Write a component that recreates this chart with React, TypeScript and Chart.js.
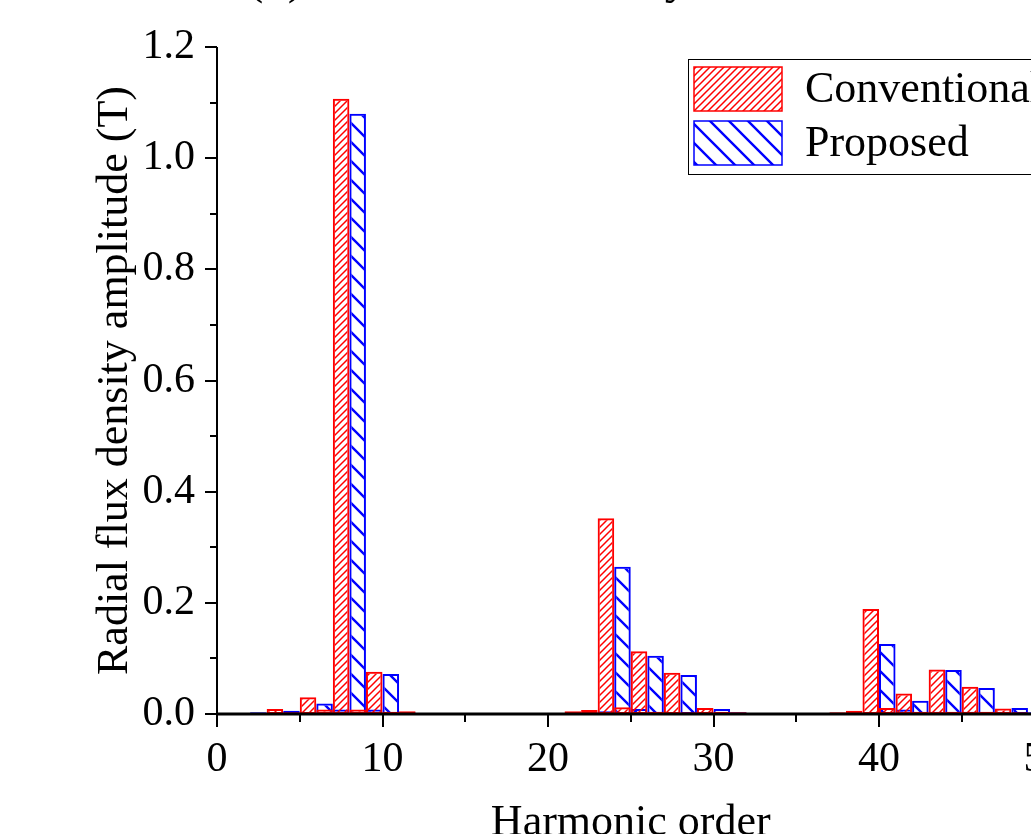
import { useEffect, useRef } from 'react';
import { Chart, registerables } from 'chart.js';

Chart.register(...registerables);

// Harmonic orders and radial flux density amplitudes (T)
const harmonicOrders = [
  1, 2, 3, 4, 5, 6, 7, 8, 9, 10,
  11, 12, 13, 14, 15, 16, 17, 18, 19, 20,
  21, 22, 23, 24, 25, 26, 27, 28, 29, 30,
  31, 32, 33, 34, 35, 36, 37, 38, 39, 40,
  41, 42, 43, 44, 45, 46, 47, 48, 49, 50,
];

const conventional = [
  0.001, 0.002, 0.002, 0.009, 0.003, 0.030, 0.008, 1.107, 0.008, 0.076,
  0.004, 0.005, 0.002, 0.002, 0.001, 0.002, 0.001, 0.002, 0.001, 0.001,
  0.002, 0.005, 0.007, 0.352, 0.012, 0.113, 0.004, 0.074, 0.003, 0.011,
  0.004, 0.003, 0.002, 0.001, 0.002, 0.001, 0.002, 0.003, 0.006, 0.189,
  0.011, 0.037, 0.004, 0.080, 0.004, 0.049, 0.004, 0.010, 0.003, 0.002,
];

const proposed = [
  0.001, 0.003, 0.002, 0.006, 0.003, 0.019, 0.008, 1.080, 0.008, 0.072,
  0.003, 0.002, 0.002, 0.001, 0.001, 0.001, 0.001, 0.001, 0.001, 0.001,
  0.001, 0.003, 0.005, 0.265, 0.009, 0.105, 0.003, 0.070, 0.003, 0.009,
  0.003, 0.002, 0.002, 0.001, 0.001, 0.002, 0.001, 0.002, 0.003, 0.126,
  0.008, 0.024, 0.004, 0.079, 0.004, 0.047, 0.004, 0.011, 0.003, 0.002,
];

const seriesNames = ['Conventional', 'Proposed'];
const xMajorTicks = [0, 10, 20, 30, 40, 50];
const xMinorTicks = [5, 15, 25, 35, 45];
const yMajorTicks = [0, 0.2, 0.4, 0.6, 0.8, 1.0, 1.2];
const yMinorTicks = [0.1, 0.3, 0.5, 0.7, 0.9, 1.1];

const SERIF = "'Liberation Serif', 'Times New Roman', Times, serif";
const RED = '#ff0000';
const BLUE = '#0000ff';

// Diagonal hatch tile: dir 1 draws "/" lines, dir -1 draws "\" lines
function makeHatch(color: string, period: number, lineWidth: number, dir: number) {
  const tile = document.createElement('canvas');
  tile.width = period;
  tile.height = period;
  const c = tile.getContext('2d')!;
  c.strokeStyle = color;
  c.lineWidth = lineWidth;
  c.lineCap = 'square';
  const p = period;
  c.beginPath();
  if (dir > 0) {
    c.moveTo(0, p); c.lineTo(p, 0);
    c.moveTo(-1, 1); c.lineTo(1, -1);
    c.moveTo(p - 1, p + 1); c.lineTo(p + 1, p - 1);
  } else {
    c.moveTo(0, 0); c.lineTo(p, p);
    c.moveTo(-1, p - 1); c.lineTo(1, p + 1);
    c.moveTo(p - 1, -1); c.lineTo(p + 1, 1);
  }
  c.stroke();
  return c.createPattern(tile, 'repeat')!;
}

const frame = {
  id: 'originFrame',
  afterDraw(chart: any) {
    const { ctx, chartArea: ca, scales } = chart;
    const xs = scales.x;
    const ys = scales.y;
    ctx.save();
    ctx.strokeStyle = '#000';

    // axis lines
    ctx.lineWidth = 2;
    ctx.beginPath();
    ctx.moveTo(ca.left, ca.top);
    ctx.lineTo(ca.left, ca.bottom);
    ctx.stroke();
    ctx.lineWidth = 3;
    ctx.beginPath();
    ctx.moveTo(ca.left - 1, ca.bottom);
    ctx.lineTo(ca.right, ca.bottom);
    ctx.stroke();

    // tick marks (outward)
    ctx.lineWidth = 2;
    ctx.beginPath();
    yMajorTicks.forEach((v) => {
      const py = Math.round(ys.getPixelForValue(v));
      ctx.moveTo(ca.left - 12, py);
      ctx.lineTo(ca.left, py);
    });
    yMinorTicks.forEach((v) => {
      const py = Math.round(ys.getPixelForValue(v));
      ctx.moveTo(ca.left - 7, py);
      ctx.lineTo(ca.left, py);
    });
    xMajorTicks.forEach((v) => {
      const px = Math.round(xs.getPixelForValue(v));
      ctx.moveTo(px, ca.bottom);
      ctx.lineTo(px, ca.bottom + 13);
    });
    xMinorTicks.forEach((v) => {
      const px = Math.round(xs.getPixelForValue(v));
      ctx.moveTo(px, ca.bottom);
      ctx.lineTo(px, ca.bottom + 8);
    });
    ctx.stroke();

    // legend
    const lx = ca.left + 471;
    const ly = ca.top + 12;
    ctx.lineWidth = 1;
    ctx.strokeRect(lx + 0.5, ly + 0.5, 420, 115);
    const sets = chart.data.datasets;
    sets.forEach((ds: any, i: number) => {
      const sy = ly + 8 + i * 54;
      ctx.fillStyle = ds.backgroundColor;
      ctx.fillRect(lx + 6, sy, 88, 44);
      ctx.strokeStyle = ds.borderColor;
      ctx.lineWidth = 1.5;
      ctx.strokeRect(lx + 6, sy, 88, 44);
      ctx.fillStyle = '#000';
      ctx.font = `44px ${SERIF}`;
      ctx.textBaseline = 'middle';
      ctx.textAlign = 'left';
      ctx.fillText(ds.label, lx + 117, sy + 23);
    });

    // panel title
    ctx.fillStyle = '#000';
    ctx.font = `49px ${SERIF}`;
    ctx.textBaseline = 'alphabetic';
    ctx.textAlign = 'left';
    ctx.fillText('(b) Radial flux density', ca.left + 30, -7);

    ctx.restore();
  },
};

export default function App() {
  const canvasRef = useRef<HTMLCanvasElement | null>(null);

  useEffect(() => {
    const canvas = canvasRef.current;
    if (!canvas) return;
    const redHatch = makeHatch(RED, 7, 1.5, 1);
    const blueHatch = makeHatch(BLUE, 19, 2.4, -1);

    const chart = new Chart(canvas, {
      type: 'bar',
      data: {
        datasets: [
          {
            label: seriesNames[0],
            data: harmonicOrders.map((o, i) => ({ x: o, y: conventional[i] })),
            backgroundColor: redHatch as any,
            borderColor: RED,
            borderWidth: 2,
            borderSkipped: false,
          },
          {
            label: seriesNames[1],
            data: harmonicOrders.map((o, i) => ({ x: o, y: proposed[i] })),
            backgroundColor: blueHatch as any,
            borderColor: BLUE,
            borderWidth: 2,
            borderSkipped: false,
          },
        ],
      },
      options: {
        animation: false,
        responsive: false,
        maintainAspectRatio: false,
        categoryPercentage: 2,
        barPercentage: 1,
        layout: { padding: { top: 47, right: 35.5, bottom: 0, left: 0 } },
        plugins: {
          legend: { display: false },
          tooltip: { enabled: false },
        },
        scales: {
          x: {
            type: 'linear',
            min: 0,
            max: 50,
            offset: false,
            grid: { display: false },
            border: { display: false },
            afterBuildTicks: (s: any) => {
              s.ticks = xMajorTicks.map((v) => ({ value: v }));
            },
            ticks: {
              color: '#000',
              font: { family: SERIF, size: 42 },
              padding: 13,
              maxRotation: 0,
              autoSkip: false,
            },
            title: {
              display: true,
              text: 'Harmonic order',
              color: '#000',
              font: { family: SERIF, size: 44 },
              padding: { top: 0, bottom: 30.6 },
            },
            afterFit: (s: any) => {
              s.height = 166;
            },
          },
          y: {
            min: 0,
            max: 1.2,
            grid: { display: false },
            border: { display: false },
            afterBuildTicks: (s: any) => {
              s.ticks = yMajorTicks.map((v) => ({ value: v }));
            },
            ticks: {
              color: '#000',
              font: { family: SERIF, size: 42 },
              padding: 14,
              callback: (v: any) => Number(v).toFixed(1),
            },
            title: {
              display: true,
              text: 'Radial flux density amplitude (T)',
              color: '#000',
              font: { family: SERIF, size: 44 },
              padding: { top: 88.6, bottom: 0 },
            },
            afterFit: (s: any) => {
              s.width = 217;
            },
          },
        },
      } as any,
      plugins: [frame],
    });

    return () => chart.destroy();
  }, []);

  return (
    <div
      style={{
        position: 'fixed',
        left: 0,
        top: 0,
        width: 1031,
        height: 834,
        overflow: 'hidden',
        background: '#fff',
      }}
    >
      <canvas ref={canvasRef} width={1080} height={880} style={{ display: 'block' }} />
    </div>
  );
}
